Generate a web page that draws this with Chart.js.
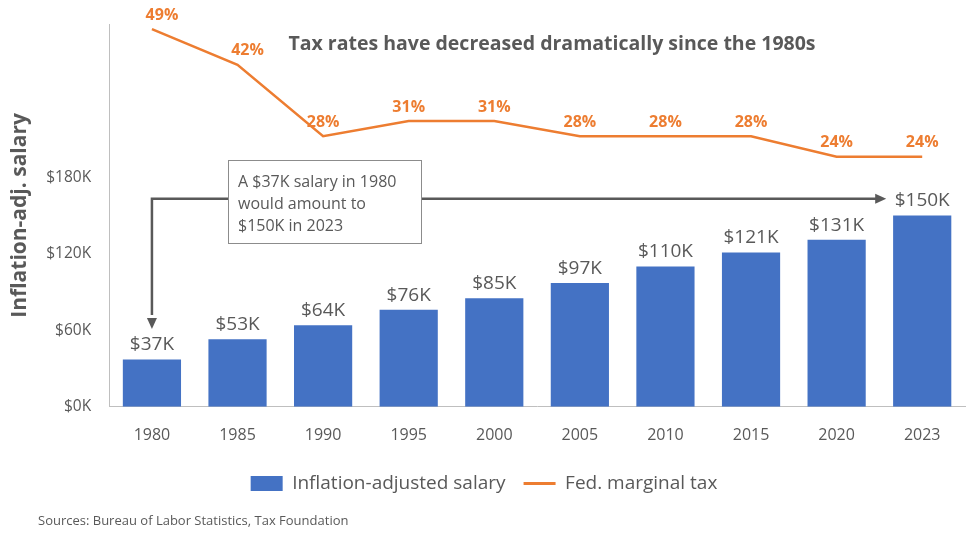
<!DOCTYPE html>
<html><head><script src="https://cdn.jsdelivr.net/npm/chart.js"></script>
<style>body{margin:0;background:#fff}</style></head>
<body><canvas id="c" width="970" height="544"></canvas>
<script>
const categories=['1980','1985','1990','1995','2000','2005','2010','2015','2020','2023'];
const salaryK=[37,53,64,76,85,97,110,121,131,150];
const taxRate=[49,42,28,31,31,28,28,28,24,24];
const yTicks=[0,60,120,180];
const gray='#595959',orange='#ED7D31',blue='#4472C4';
const labels={id:'lbl',afterDatasetsDraw(ch){
 const c=ch.ctx,xs=ch.scales.x,ys=ch.scales.y;
 c.save();c.textAlign='center';c.textBaseline='bottom';
 ch.getDatasetMeta(0).data.forEach((b,i)=>{c.font='19px "Open Sans", sans-serif';c.fillStyle=gray;c.fillText('$'+salaryK[i]+'K',b.x,b.y-5);});
 ch.getDatasetMeta(1).data.forEach((p,i)=>{c.font='bold 16px "Open Sans", sans-serif';c.fillStyle=orange;c.fillText(taxRate[i]+'%',p.x+(i<2?10:0),p.y-6);});
 c.font='bold 19.5px "Open Sans", sans-serif';c.fillStyle=gray;c.textBaseline='middle';
 c.fillText('Tax rates have decreased dramatically since the 1980s',552,44);
 const x0=xs.getPixelForValue(0),x9=xs.getPixelForValue(9),yA=ys.getPixelForValue(163);
 c.strokeStyle=gray;c.fillStyle=gray;c.lineWidth=2.5;
 c.beginPath();c.moveTo(x0,ys.getPixelForValue(72));c.lineTo(x0,yA);c.lineTo(x9-45,yA);c.stroke();
 const ax=x9-36;c.beginPath();c.moveTo(ax,yA);c.lineTo(ax-11,yA-5);c.lineTo(ax-11,yA+5);c.fill();
 const ay=ys.getPixelForValue(61);c.beginPath();c.moveTo(x0,ay);c.lineTo(x0-5,ay-11);c.lineTo(x0+5,ay-11);c.fill();
 c.fillStyle='#fff';c.fillRect(228,160,193,83);c.strokeStyle='#8c8c8c';c.lineWidth=1;c.strokeRect(228.5,160.5,193,83);
 c.fillStyle=gray;c.font='16px "Open Sans", sans-serif';c.textAlign='left';
 ['A $37K salary in 1980','would amount to','$150K in 2023'].forEach((t,i)=>c.fillText(t,238,182+i*22));
 c.font='13px "Open Sans", sans-serif';c.fillText('Sources: Bureau of Labor Statistics, Tax Foundation',38,521);
 c.restore();}};
new Chart(document.getElementById('c'),{
 data:{labels:categories,datasets:[
  {type:'bar',label:'Inflation-adjusted salary',data:salaryK,backgroundColor:blue,barPercentage:0.68,categoryPercentage:1,yAxisID:'y',order:2},
  {type:'line',label:'Fed. marginal tax',data:taxRate,borderColor:orange,backgroundColor:orange,borderWidth:2.5,pointRadius:0,tension:0,yAxisID:'y1',order:1}]},
 options:{responsive:false,animation:false,devicePixelRatio:1,
  layout:{padding:{left:3,right:5,top:24,bottom:41}},
  plugins:{tooltip:{enabled:false},legend:{position:'bottom',labels:{color:gray,font:{size:19,family:'"Open Sans", sans-serif'},usePointStyle:true,pointStyleWidth:32,boxHeight:15,padding:18,
    generateLabels(ch){return ch.data.datasets.map((d,i)=>({text:d.label,fillStyle:d.backgroundColor,strokeStyle:d.backgroundColor,lineWidth:i==1?3:0,pointStyle:i==1?'line':'rect',datasetIndex:i,fontColor:gray}));}}}},
  scales:{
   x:{grid:{display:false},border:{color:'#bfbfbf'},ticks:{color:gray,font:{size:16,family:'"Open Sans", sans-serif'},padding:11,maxRotation:0}},
   y:{min:0,max:300,afterBuildTicks(a){a.ticks=yTicks.map(v=>({value:v}));},grid:{display:false},border:{color:'#bfbfbf'},
      ticks:{color:gray,font:{size:15.5,family:'"Open Sans", sans-serif'},callback:v=>'$'+v+'K',padding:10},
      title:{display:true,text:'Inflation-adj. salary',color:gray,font:{size:21,weight:'bold',family:'"Open Sans", sans-serif'}}},
   y1:{display:false,min:-25,max:50}}},
 plugins:[labels]});
</script></body></html>
